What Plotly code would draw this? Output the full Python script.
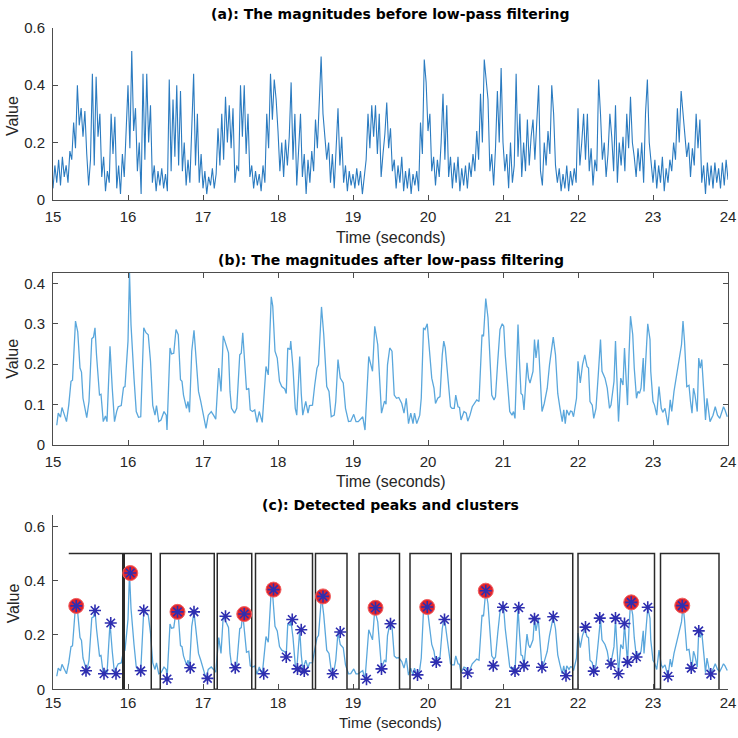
import plotly.graph_objects as go

# ---------------- data ----------------
raw_t0 = 15.0
raw_dt = 0.025
raw_v = [
    # 15.x
    0.04, 0.12, 0.06, 0.14, 0.05, 0.15, 0.08, 0.12, 0.06, 0.17,
    0.14, 0.27, 0.18, 0.40, 0.26, 0.32, 0.22, 0.31, 0.16, 0.05,
    0.14, 0.44, 0.12, 0.43, 0.22, 0.30, 0.08, 0.15, 0.03, 0.10,
    0.06, 0.30, 0.16, 0.29, 0.04, 0.12, 0.02, 0.16, 0.08, 0.28,
    # 16.x
    0.40, 0.18, 0.52, 0.24, 0.32, 0.10, 0.20, 0.02, 0.44, 0.14,
    0.44, 0.20, 0.33, 0.06, 0.12, 0.03, 0.10, 0.05, 0.11, 0.04,
    0.09, 0.03, 0.42, 0.10, 0.35, 0.15, 0.40, 0.12, 0.38, 0.10,
    0.20, 0.05, 0.14, 0.06, 0.22, 0.44, 0.12, 0.30, 0.06, 0.16,
    # 17.x
    0.04, 0.10, 0.02, 0.08, 0.05, 0.11, 0.04, 0.09, 0.25, 0.12,
    0.30, 0.14, 0.36, 0.20, 0.33, 0.18, 0.32, 0.06, 0.12, 0.10,
    0.40, 0.22, 0.40, 0.16, 0.30, 0.08, 0.12, 0.04, 0.10, 0.05,
    0.09, 0.03, 0.12, 0.06, 0.30, 0.18, 0.44, 0.28, 0.42, 0.35,
    # 18.x
    0.24, 0.10, 0.20, 0.08, 0.21, 0.12, 0.22, 0.41, 0.14, 0.30,
    0.05, 0.18, 0.30, 0.08, 0.16, 0.02, 0.14, 0.06, 0.17, 0.10,
    0.28, 0.18, 0.33, 0.50, 0.30, 0.20, 0.14, 0.20, 0.06, 0.16,
    0.04, 0.18, 0.32, 0.12, 0.22, 0.06, 0.12, 0.03, 0.10, 0.05,
    # 19.x
    0.09, 0.04, 0.11, 0.05, 0.10, 0.02, 0.08, 0.14, 0.30, 0.18,
    0.33, 0.22, 0.33, 0.16, 0.30, 0.08, 0.16, 0.23, 0.34, 0.18,
    0.25, 0.10, 0.14, 0.04, 0.12, 0.06, 0.15, 0.03, 0.10, 0.04,
    0.11, 0.02, 0.09, 0.05, 0.10, 0.03, 0.27, 0.16, 0.49, 0.41,
    # 20.x
    0.24, 0.30, 0.10, 0.15, 0.05, 0.14, 0.08, 0.20, 0.37, 0.14,
    0.33, 0.08, 0.15, 0.04, 0.13, 0.06, 0.15, 0.03, 0.11, 0.05,
    0.12, 0.04, 0.13, 0.08, 0.16, 0.10, 0.24, 0.14, 0.37, 0.20,
    0.49, 0.41, 0.35, 0.10, 0.16, 0.05, 0.18, 0.38, 0.20, 0.46,
    # 21.x
    0.20, 0.10, 0.16, 0.04, 0.20, 0.06, 0.12, 0.44, 0.15, 0.30,
    0.08, 0.20, 0.10, 0.28, 0.12, 0.22, 0.28, 0.14, 0.25, 0.40,
    0.10, 0.05, 0.20, 0.12, 0.24, 0.16, 0.40, 0.30, 0.12, 0.06,
    0.11, 0.03, 0.09, 0.04, 0.12, 0.03, 0.10, 0.05, 0.11, 0.06,
    # 22.x
    0.32, 0.12, 0.20, 0.30, 0.14, 0.30, 0.10, 0.18, 0.05, 0.14,
    0.10, 0.42, 0.30, 0.14, 0.20, 0.08, 0.16, 0.30, 0.22, 0.10,
    0.33, 0.06, 0.20, 0.12, 0.22, 0.10, 0.30, 0.18, 0.36, 0.20,
    0.15, 0.08, 0.18, 0.10, 0.20, 0.06, 0.30, 0.42, 0.20, 0.12,
    # 23.x
    0.06, 0.14, 0.04, 0.12, 0.06, 0.15, 0.03, 0.11, 0.06, 0.14,
    0.10, 0.20, 0.14, 0.32, 0.20, 0.38, 0.30, 0.22, 0.15, 0.20,
    0.08, 0.18, 0.12, 0.30, 0.18, 0.28, 0.06, 0.12, 0.02, 0.13,
    0.05, 0.12, 0.04, 0.13, 0.06, 0.11, 0.04, 0.13, 0.05, 0.14,
    0.07,
]
raw_t = [raw_t0 + i * raw_dt for i in range(len(raw_v))]

filt_t = [
    15.05, 15.07, 15.10, 15.12, 15.15, 15.18, 15.21, 15.24, 15.26, 15.30,
    15.33, 15.36, 15.38, 15.40, 15.45, 15.48, 15.517, 15.54, 15.56, 15.58,
    15.62, 15.64, 15.67, 15.70, 15.72, 15.76, 15.79, 15.82, 15.85, 15.87,
    15.91, 15.94, 15.96, 16.00, 16.02, 16.04, 16.08, 16.11, 16.14, 16.17,
    16.21, 16.24, 16.27, 16.30, 16.33, 16.36, 16.38, 16.41, 16.44, 16.48,
    16.51, 16.52, 16.56, 16.58, 16.61, 16.64, 16.67, 16.70, 16.72, 16.74,
    16.78, 16.80, 16.82, 16.85, 16.88, 16.91, 16.94, 16.97, 17.01, 17.04,
    17.07, 17.11, 17.14, 17.17, 17.21, 17.24, 17.27, 17.31, 17.34, 17.36,
    17.38, 17.42, 17.45, 17.49, 17.51, 17.53, 17.55, 17.58, 17.61, 17.63,
    17.66, 17.69, 17.72, 17.75, 17.79, 17.81, 17.84, 17.87, 17.91, 17.93,
    17.96, 17.99, 18.02, 18.05, 18.09, 18.11, 18.13, 18.16, 18.17, 18.20,
    18.23, 18.25, 18.29, 18.31, 18.33, 18.37, 18.40, 18.42, 18.46, 18.49,
    18.52, 18.54, 18.58, 18.61, 18.65, 18.68, 18.71, 18.75, 18.77, 18.80,
    18.83, 18.87, 18.90, 18.94, 18.97, 19.01, 19.04, 19.07, 19.10, 19.13,
    19.16, 19.19, 19.21, 19.26, 19.29, 19.33, 19.35, 19.38, 19.42, 19.44,
    19.46, 19.49, 19.52, 19.55, 19.58, 19.61, 19.65, 19.68, 19.71, 19.74,
    19.77, 19.80, 19.82, 19.85, 19.89, 19.91, 19.94, 19.96, 19.99, 20.02,
    20.05, 20.08, 20.10, 20.13, 20.16, 20.19, 20.21, 20.23, 20.26, 20.30,
    20.32, 20.35, 20.37, 20.40, 20.42, 20.44, 20.48, 20.51, 20.53, 20.56,
    20.59, 20.62, 20.65, 20.68, 20.72, 20.74, 20.77, 20.80, 20.82, 20.85,
    20.88, 20.90, 20.93, 20.96, 20.99, 21.01, 21.03, 21.06, 21.09, 21.12,
    21.14, 21.16, 21.20, 21.22, 21.24, 21.26, 21.28, 21.32, 21.34, 21.36,
    21.40, 21.42, 21.44, 21.47, 21.50, 21.52, 21.55, 21.59, 21.62, 21.67,
    21.70, 21.73, 21.76, 21.79, 21.81, 21.83, 21.85, 21.88, 21.90, 21.92,
    21.94, 21.98, 22.00, 22.03, 22.06, 22.09, 22.12, 22.14, 22.16, 22.19,
    22.21, 22.24, 22.27, 22.30, 22.32, 22.36, 22.39, 22.42, 22.44, 22.48,
    22.50, 22.52, 22.54, 22.57, 22.60, 22.62, 22.64, 22.66, 22.68, 22.70,
    22.73, 22.75, 22.78, 22.80, 22.82, 22.84, 22.87, 22.88, 22.91, 22.93,
    22.96, 22.97, 23.00, 23.02, 23.05, 23.08, 23.11, 23.13, 23.16, 23.18,
    23.20, 23.23, 23.25, 23.28, 23.31, 23.34, 23.38, 23.40, 23.42, 23.45,
    23.48, 23.50, 23.52, 23.54, 23.56, 23.59, 23.61, 23.63, 23.65, 23.68,
    23.70, 23.72, 23.74, 23.76, 23.80, 23.83, 23.86, 23.89, 23.92, 23.94,
    23.96, 23.99,
]
filt_v = [
    0.048, 0.078, 0.068, 0.092, 0.075, 0.057, 0.098, 0.157, 0.160, 0.307,
    0.280, 0.190, 0.180, 0.115, 0.067, 0.107, 0.263, 0.267, 0.290, 0.223,
    0.123, 0.125, 0.057, 0.071, 0.057, 0.244, 0.140, 0.057, 0.083, 0.094,
    0.097, 0.142, 0.144, 0.257, 0.428, 0.298, 0.165, 0.082, 0.068, 0.069,
    0.290, 0.278, 0.273, 0.207, 0.097, 0.073, 0.097, 0.057, 0.061, 0.082,
    0.073, 0.036, 0.240, 0.225, 0.227, 0.286, 0.273, 0.161, 0.157, 0.123,
    0.090, 0.107, 0.080, 0.232, 0.284, 0.215, 0.132, 0.107, 0.073, 0.040,
    0.073, 0.082, 0.073, 0.063, 0.190, 0.132, 0.270, 0.248, 0.228, 0.132,
    0.090, 0.078, 0.090, 0.223, 0.227, 0.278, 0.223, 0.136, 0.140, 0.086,
    0.082, 0.086, 0.055, 0.082, 0.055, 0.123, 0.194, 0.173, 0.367, 0.344,
    0.232, 0.215, 0.157, 0.144, 0.138, 0.127, 0.240, 0.236, 0.257, 0.190,
    0.090, 0.073, 0.219, 0.127, 0.073, 0.107, 0.078, 0.097, 0.098, 0.148,
    0.190, 0.198, 0.342, 0.273, 0.144, 0.132, 0.069, 0.073, 0.107, 0.211,
    0.165, 0.153, 0.090, 0.057, 0.058, 0.075, 0.057, 0.057, 0.063, 0.069,
    0.036, 0.165, 0.219, 0.182, 0.294, 0.248, 0.182, 0.078, 0.108, 0.100,
    0.198, 0.240, 0.232, 0.123, 0.115, 0.117, 0.102, 0.078, 0.115, 0.052,
    0.078, 0.052, 0.078, 0.052, 0.073, 0.115, 0.290, 0.286, 0.300, 0.236,
    0.165, 0.140, 0.102, 0.115, 0.119, 0.223, 0.257, 0.240, 0.182, 0.094,
    0.090, 0.090, 0.123, 0.094, 0.092, 0.061, 0.082, 0.078, 0.058, 0.073,
    0.094, 0.102, 0.111, 0.107, 0.273, 0.269, 0.363, 0.315, 0.232, 0.123,
    0.111, 0.119, 0.207, 0.286, 0.300, 0.294, 0.223, 0.140, 0.082, 0.073,
    0.082, 0.065, 0.298, 0.207, 0.127, 0.123, 0.086, 0.203, 0.165, 0.153,
    0.182, 0.261, 0.215, 0.261, 0.165, 0.082, 0.102, 0.140, 0.198, 0.267,
    0.223, 0.127, 0.090, 0.057, 0.086, 0.052, 0.086, 0.073, 0.083, 0.082,
    0.069, 0.115, 0.207, 0.153, 0.198, 0.223, 0.194, 0.190, 0.107, 0.098,
    0.065, 0.090, 0.173, 0.261, 0.182, 0.165, 0.140, 0.090, 0.098, 0.157,
    0.257, 0.148, 0.057, 0.165, 0.148, 0.240, 0.173, 0.098, 0.223, 0.319,
    0.273, 0.190, 0.115, 0.132, 0.127, 0.140, 0.215, 0.132, 0.232, 0.300,
    0.261, 0.182, 0.107, 0.098, 0.073, 0.144, 0.090, 0.080, 0.090, 0.065,
    0.048, 0.111, 0.082, 0.132, 0.165, 0.198, 0.248, 0.307, 0.257, 0.144,
    0.147, 0.107, 0.078, 0.140, 0.123, 0.082, 0.215, 0.190, 0.211, 0.123,
    0.061, 0.115, 0.082, 0.057, 0.073, 0.094, 0.073, 0.065, 0.082, 0.094,
    0.086, 0.069,
]

star_t = [15.31, 15.44, 15.56, 15.68, 15.77, 15.84, 16.03, 16.17, 16.21, 16.52,
          16.66, 16.83, 16.88, 17.06, 17.30, 17.43, 17.55, 17.81, 17.94, 18.11,
          18.19, 18.26, 18.31, 18.35, 18.60, 18.73, 18.83, 19.18, 19.30, 19.38,
          19.50, 19.86, 19.99, 20.11, 20.22, 20.53, 20.77, 20.87, 21.00, 21.16,
          21.21, 21.28, 21.42, 21.52, 21.67, 21.84, 22.10, 22.21, 22.29, 22.44,
          22.50, 22.54, 22.62, 22.66, 22.71, 22.78, 22.93, 23.20, 23.39, 23.51,
          23.61, 23.77]
star_v = [0.307, 0.068, 0.290, 0.057, 0.244, 0.057, 0.428, 0.068, 0.290, 0.038,
          0.285, 0.079, 0.285, 0.040, 0.269, 0.079, 0.277, 0.057, 0.367, 0.119,
          0.257, 0.075, 0.219, 0.067, 0.342, 0.057, 0.211, 0.037, 0.300, 0.075,
          0.241, 0.053, 0.303, 0.100, 0.257, 0.060, 0.363, 0.087, 0.302, 0.067,
          0.300, 0.087, 0.260, 0.081, 0.267, 0.050, 0.229, 0.067, 0.262, 0.093,
          0.262, 0.057, 0.242, 0.100, 0.320, 0.119, 0.302, 0.048, 0.308, 0.078,
          0.215, 0.056]

peak_t = [15.31, 16.03, 16.66, 17.55, 17.94, 18.60, 19.30, 19.99, 20.77, 22.71, 23.39]
peak_v = [0.307, 0.428, 0.285, 0.277, 0.367, 0.342, 0.300, 0.303, 0.363, 0.320, 0.308]

cluster_start = [15.21, 15.95, 16.43, 17.19, 17.70, 18.50, 19.08, 19.76, 20.44, 22.00, 23.10]
cluster_end = [15.93, 16.31, 17.15, 17.65, 18.46, 18.92, 19.62, 20.31, 21.93, 23.02, 23.88]
cluster_level = 0.5

x_ticks = list(range(15, 25))

# build cluster step line
step_x, step_y = [], []
for i, (s, e) in enumerate(zip(cluster_start, cluster_end)):
    if i > 0:
        step_x.append(s); step_y.append(0)
    step_x += [s, e, e]
    step_y += [cluster_level, cluster_level, 0]

# ---------------- figure ----------------
FONT = "Arial, Liberation Sans, sans-serif"
TFONT = "DejaVu Sans, Arial, sans-serif"
AXC = "#4d4d4d"
H = 738.0

def dpx(ref_y):
    # page-pixel row that shows up at the wanted row of the photographed page
    return (ref_y - 8.0) / 0.978

def pap(ref_y):
    return 1 - dpx(ref_y) / H

def dom(top, bottom):
    return [pap(bottom), pap(top)]

fig = go.Figure()
fig.add_trace(go.Scatter(x=raw_t, y=raw_v, mode="lines",
                         line=dict(color="#2b7bc0", width=1.1),
                         xaxis="x", yaxis="y", showlegend=False))
fig.add_trace(go.Scatter(x=filt_t, y=filt_v, mode="lines",
                         line=dict(color="#5aa7dc", width=1.3),
                         xaxis="x2", yaxis="y2", showlegend=False))
fig.add_trace(go.Scatter(x=filt_t, y=filt_v, mode="lines",
                         line=dict(color="#5aa7dc", width=1.3),
                         xaxis="x3", yaxis="y3", showlegend=False))
fig.add_trace(go.Scatter(x=step_x, y=step_y, mode="lines",
                         line=dict(color="#2a2a2a", width=1.5),
                         xaxis="x3", yaxis="y3", showlegend=False))
fig.add_trace(go.Scatter(x=peak_t, y=peak_v, mode="markers",
                         marker=dict(symbol="circle", size=15, color="#e3242b",
                                     line=dict(color="#f06060", width=1)),
                         xaxis="x3", yaxis="y3", showlegend=False))
fig.add_trace(go.Scatter(x=star_t, y=star_v, mode="markers",
                         marker=dict(symbol="asterisk-open", size=10, color="#2e2eb0",
                                     line=dict(color="#2e2eb0", width=1.6)),
                         xaxis="x3", yaxis="y3", showlegend=False))

xcommon = dict(range=[15, 24], tickvals=x_ticks, ticks="inside", ticklen=5,
               tickcolor=AXC, showline=True, linecolor=AXC, linewidth=1,
               showgrid=False, zeroline=False, domain=[0, 1],
               tickfont=dict(family=FONT, size=15, color="#262626"))
ycommon = dict(ticks="inside", ticklen=5, tickcolor=AXC, showline=True,
               linecolor=AXC, linewidth=1, showgrid=False, zeroline=False,
               ticklabelstandoff=4,
               tickfont=dict(family=FONT, size=15, color="#262626"))

fig.update_layout(
    width=738, height=738,
    margin=dict(l=53, r=10, t=0, b=0),
    paper_bgcolor="white", plot_bgcolor="white",
    xaxis=dict(**xcommon, anchor="y", ticklabelstandoff=3),
    yaxis=dict(**ycommon, domain=dom(27, 199), range=[0, 0.6],
               tickvals=[0, 0.2, 0.4, 0.6], ticktext=["0", "0.2", "0.4", "0.6"],
               anchor="x"),
    xaxis2=dict(**xcommon, anchor="y2", mirror="ticks", ticklabelstandoff=3),
    yaxis2=dict(**ycommon, domain=dom(272, 444), range=[0, 0.427],
                tickvals=[0, 0.1, 0.2, 0.3, 0.4],
                ticktext=["0", "0.1", "0.2", "0.3", "0.4"],
                anchor="x2", mirror="ticks"),
    xaxis3=dict(**xcommon, anchor="y3", ticklabelstandoff=0),
    yaxis3=dict(**ycommon, domain=dom(515, 689), range=[0, 0.64],
                tickvals=[0, 0.2, 0.4, 0.6], ticktext=["0", "0.2", "0.4", "0.6"],
                anchor="x3"),
)

ann = []
titles = [("(a): The magnitudes before low-pass filtering", 13),
          ("(b): The magnitudes after low-pass filtering", 259),
          ("(c): Detected peaks and clusters", 505)]
for txt, ypix in titles:
    ann.append(dict(text="<b>" + txt + "</b>", xref="paper", yref="paper",
                    x=0.5, y=pap(ypix), xanchor="center", yanchor="middle",
                    showarrow=False, font=dict(family=TFONT, size=14, color="black")))
for ypix in (237, 481):
    ann.append(dict(text="Time (seconds)", xref="paper", yref="paper",
                    x=0.5, y=pap(ypix), xanchor="center", yanchor="middle",
                    showarrow=False, font=dict(family=FONT, size=16, color="#262626")))
ann.append(dict(text="Time (seconds)", xref="paper", yref="paper",
                x=0.5, y=0, xanchor="center", yanchor="bottom",
                yshift=-3,
                showarrow=False, font=dict(family=FONT, size=15, color="#262626")))
for ypix in (115, 358, 603):
    ann.append(dict(text="Value", xref="paper", yref="paper",
                    x=-40 / 675.0, y=pap(ypix),
                    xanchor="center", yanchor="middle", textangle=-90,
                    showarrow=False, font=dict(family=FONT, size=16, color="#262626")))
fig.update_layout(annotations=ann)

fig.write_html("out.html")
